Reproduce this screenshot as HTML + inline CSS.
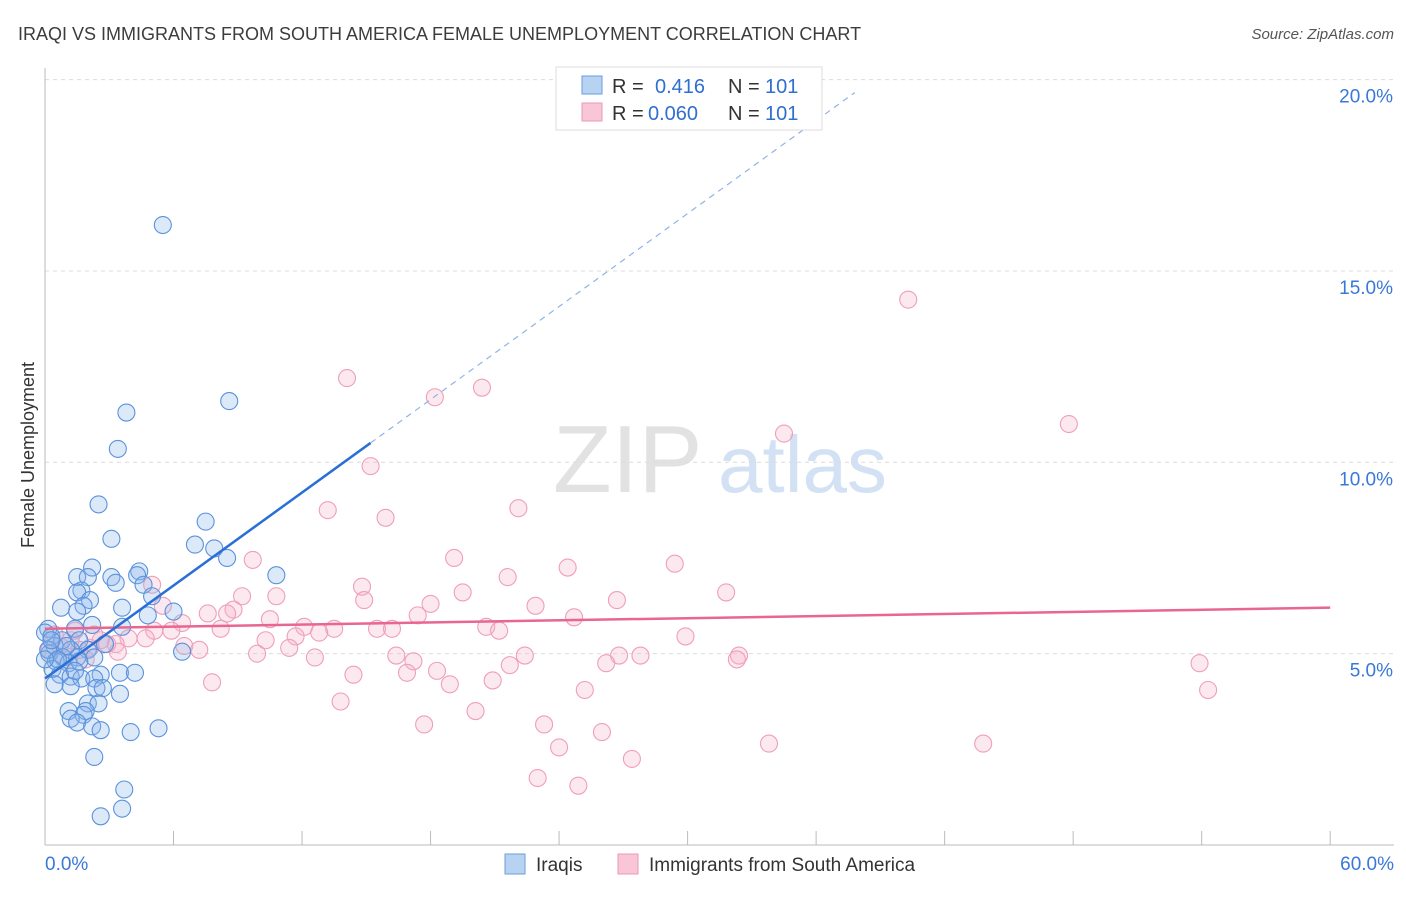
<!DOCTYPE html>
<html><head><meta charset="utf-8"><style>
body{margin:0;background:#fff;font-family:"Liberation Sans",sans-serif}
svg text{font-family:"Liberation Sans",sans-serif}
</style></head><body>
<svg id="chart" width="1406" height="892">
<text x="18" y="40" font-size="18" fill="#3c3c3c">IRAQI VS IMMIGRANTS FROM SOUTH AMERICA FEMALE UNEMPLOYMENT CORRELATION CHART</text>
<text x="1394" y="39" font-size="15" fill="#555" text-anchor="end" font-style="italic">Source: ZipAtlas.com</text>
<text x="34" y="455" font-size="18" fill="#333" text-anchor="middle" transform="rotate(-90 34 455)">Female Unemployment</text>
<g><text x="553" y="492" font-size="96" fill="#e2e2e2" font-family="Liberation Serif">ZIP</text><text x="718" y="492" font-size="80" fill="#d2e1f3">atlas</text></g>
<g id="grid"></g><g id="axes"></g><g id="pinkpts"></g><g id="bluepts"></g><g id="lines"></g>
<g>
<rect x="556" y="67" width="266" height="63" fill="#fff" stroke="#ddd"/>
<rect x="582" y="76" width="20" height="18" fill="#b8d2f2" stroke="#6a9ee0"/>
<rect x="582" y="103" width="20" height="18" fill="#f8c6d6" stroke="#ec9ab4"/>
<text x="612" y="93" font-size="20" fill="#333">R =</text><text x="655" y="93" font-size="20" fill="#2e6fd0">0.416</text>
<text x="728" y="93" font-size="20" fill="#333">N =</text><text x="765" y="93" font-size="20" fill="#2e6fd0">101</text>
<text x="612" y="120" font-size="20" fill="#333">R =</text><text x="648" y="120" font-size="20" fill="#2e6fd0">0.060</text>
<text x="728" y="120" font-size="20" fill="#333">N =</text><text x="765" y="120" font-size="20" fill="#2e6fd0">101</text>
</g>
<g>
<rect x="505" y="854" width="20" height="20" fill="#b8d2f2" stroke="#6a9ee0"/>
<text x="536" y="871" font-size="19" fill="#333">Iraqis</text>
<rect x="618" y="854" width="20" height="20" fill="#f8c6d6" stroke="#ec9ab4"/>
<text x="649" y="871" font-size="19" fill="#333">Immigrants from South America</text>
</g>
</svg>
<script>
const xTicks=[0,6,12,18,24,30,36,42,48,54,60];
const yTicks=[5,10,15,20];
const blueX=[5.5,3.8,8.6,3.4,2.5,7.5,3.1,7.0,7.9,8.5,2.2,4.4,1.5,2.0,3.1,4.3,10.8,3.3,4.6,1.7,1.5,5.0,2.1,1.8,3.6,0.75,6.0,1.5,4.8,2.2,3.6,1.4,0.15,0,0.3,0.8,1.6,2.8,0.45,1.2,2.0,6.4,0.2,0.85,1.5,2.3,0.5,1.1,1.6,0.35,0.7,1.2,2.6,3.5,4.2,1.7,2.3,0.45,1.2,2.4,2.7,3.5,2.0,2.5,1.1,1.9,1.8,1.2,1.5,2.2,2.6,4.0,5.3,2.3,3.7,3.6,2.6,0.15,0.6,1.0,1.4,0,0.3];
const blueY=[16.2,11.3,11.6,10.35,8.9,8.45,8.0,7.85,7.75,7.5,7.25,7.15,7.0,7.0,7.0,7.05,7.05,6.85,6.8,6.65,6.6,6.5,6.4,6.25,6.2,6.2,6.1,6.1,6.0,5.75,5.7,5.65,5.65,5.55,5.45,5.35,5.35,5.25,5.2,5.1,5.1,5.05,5.0,4.9,4.9,4.9,4.8,4.75,4.8,4.6,4.45,4.4,4.45,4.5,4.5,4.35,4.35,4.2,4.15,4.1,4.1,3.95,3.7,3.7,3.5,3.5,3.4,3.3,3.2,3.1,3.0,2.95,3.05,2.3,1.45,0.95,0.75,5.1,4.85,5.2,4.55,4.85,5.35];
const pinkX=[40.3,14.1,20.4,18.2,47.8,34.5,15.2,22.1,13.2,15.9,19.1,9.7,29.4,24.4,21.6,14.8,5.0,9.2,10.8,19.5,31.8,14.9,26.7,18.0,22.9,5.5,8.8,8.5,7.6,17.4,10.5,24.7,6.4,5.9,20.6,15.5,16.2,12.1,13.5,12.8,11.7,8.2,5.1,21.2,3.9,4.7,10.3,29.9,3.3,6.5,11.4,7.2,3.4,9.9,12.6,16.4,32.4,22.4,26.8,27.8,17.2,26.2,32.3,21.7,53.9,18.3,16.9,14.4,20.9,18.9,7.8,25.2,54.3,13.8,20.1,17.7,23.3,26.0,33.8,43.8,24.0,27.4,23.0,24.9,0.2,0.7,1.2,1.6,2.1,2.6,0.9,0.45,1.4,2.3,2.9,1.9];
const pinkY=[14.25,12.2,11.95,11.7,11.0,10.75,9.9,8.8,8.75,8.55,7.5,7.45,7.35,7.25,7.0,6.75,6.8,6.5,6.5,6.6,6.6,6.4,6.4,6.3,6.25,6.25,6.15,6.05,6.05,6.0,5.9,5.95,5.8,5.6,5.7,5.65,5.65,5.7,5.65,5.55,5.45,5.65,5.6,5.6,5.4,5.4,5.35,5.45,5.25,5.2,5.15,5.1,5.05,5.0,4.9,4.95,4.95,4.95,4.95,4.95,4.8,4.75,4.85,4.7,4.75,4.55,4.5,4.45,4.3,4.2,4.25,4.05,4.05,3.75,3.5,3.15,3.15,2.95,2.65,2.65,2.55,2.25,1.75,1.55,5.1,5.2,5.35,5.1,5.15,5.35,4.85,5.5,5.6,5.5,5.25,4.85];
const blueFit=[4.35,0.405], pinkFit=[5.65,0.0092];
const sx=v=>45+v*21.42, sy=v=>845-v*38.27;
const NS="http://www.w3.org/2000/svg";
function mk(t,a,p){const e=document.createElementNS(NS,t);for(const k in a)e.setAttribute(k,a[k]);p.appendChild(e);return e;}
const grid=document.getElementById('grid'),axes=document.getElementById('axes');
yTicks.forEach(t=>{
 const l=mk('line',{x1:45,x2:1394,y1:sy(t),y2:sy(t),stroke:'#dcdcdc','stroke-dasharray':'4,4'},grid);
 
 
 const tx=mk('text',{x:1393,y:sy(t)+23,'font-size':19,fill:'#3a78d8','text-anchor':'end'},axes);tx.textContent=t.toFixed(1)+'%';
 
 
});
mk('line',{x1:45,x2:45,y1:68,y2:845,stroke:'#bbb'},axes);
mk('line',{x1:45,x2:1394,y1:845,y2:845,stroke:'#bbb'},axes);
xTicks.forEach(t=>{const l=mk('line',{x1:sx(t),x2:sx(t),y1:831,y2:845,stroke:'#bbb'},axes);
 
 });
[[0,'0.0%','start',45],[60,'60.0%','end',1394]].forEach(a=>{const tx=mk('text',{x:a[3],y:870,'font-size':19,fill:'#3a78d8','text-anchor':a[2]},axes);tx.textContent=a[1];
 
 });
const pp=document.getElementById('pinkpts');
pinkX.forEach((x,i)=>{const c=mk('circle',{cx:sx(x),cy:sy(pinkY[i]),r:8.5,fill:'rgba(246,180,202,0.3)',stroke:'#ef9fb9','stroke-width':1.1},pp);
 
 });
const bp=document.getElementById('bluepts');
blueX.forEach((x,i)=>{const c=mk('circle',{cx:sx(x),cy:sy(blueY[i]),r:8.5,fill:'rgba(140,182,235,0.3)',stroke:'#5a92dc','stroke-width':1.1},bp);
 
 });
const lg=document.getElementById('lines');
let l=mk('line',{x1:sx(0),y1:sy(pinkFit[0]),x2:sx(60),y2:sy(pinkFit[0]+60*pinkFit[1]),stroke:'#e8668f','stroke-width':2.5},lg);


l=mk('line',{x1:sx(0),y1:sy(blueFit[0]),x2:sx(15.2),y2:sy(blueFit[0]+15.2*blueFit[1]),stroke:'#2a6fd6','stroke-width':2.5},lg);


l=mk('line',{x1:sx(15.2),y1:sy(blueFit[0]+15.2*blueFit[1]),x2:sx(37.8),y2:sy(blueFit[0]+37.8*blueFit[1]),stroke:'#8fb4e6','stroke-width':1.2,'stroke-dasharray':'6,5'},lg);


</script>
</body></html>
